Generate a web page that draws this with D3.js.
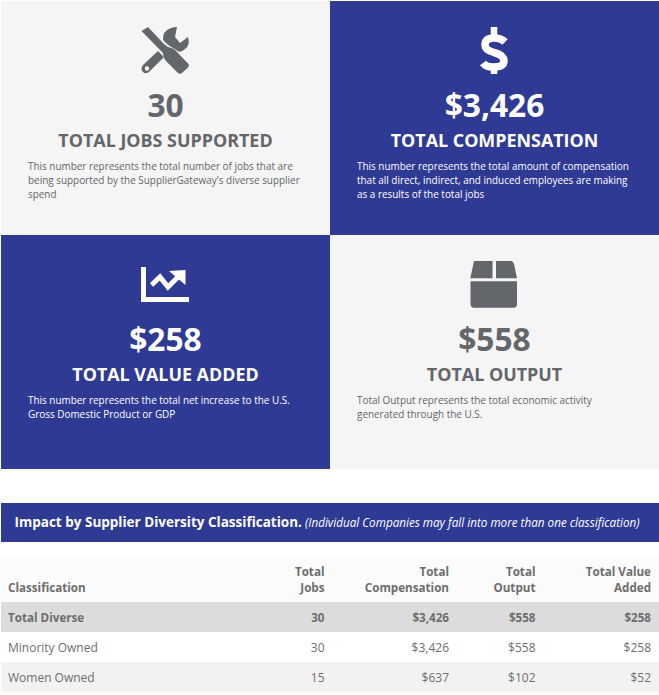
<!DOCTYPE html>
<html><head><meta charset="utf-8">
<script src="https://cdn.jsdelivr.net/npm/d3@7"></script>
<style>html,body{margin:0;padding:0;background:#fff}svg{display:block}text{font-family:"Open Sans",sans-serif}</style>
</head><body><div id="c"></div>
<script>
const cardKeys=["jobs","comp","value","output"];
const cardValues=["30","$3,426","$258","$558"];
const cardTitles=["TOTAL JOBS SUPPORTED","TOTAL COMPENSATION","TOTAL VALUE ADDED","TOTAL OUTPUT"];
const cardNotes=[
 ["This number represents the total number of jobs that are","being supported by the SupplierGateway's diverse supplier","spend"],
 ["This number represents the total amount of compensation","that all direct, indirect, and induced employees are making","as a results of the total jobs"],
 ["This number represents the total net increase to the U.S.","Gross Domestic Product or GDP"],
 ["Total Output represents the total economic activity","generated through the U.S."]];
const bannerTitle="Impact by Supplier Diversity Classification.";
const bannerNote="(Individual Companies may fall into more than one classification)";
const columns=["Classification","Jobs","Compensation","Output","ValueAdded"];
const columnHeads=[["Classification"],["Total","Jobs"],["Total","Compensation"],["Total","Output"],["Total Value","Added"]];
const rowNames=["Total Diverse","Minority Owned","Women Owned"];
const jobs=["30","30","15"];
const compensation=["$3,426","$3,426","$637"];
const output=["$558","$558","$102"];
const valueAdded=["$258","$258","$52"];

const GREY="#63666a",BLUE="#2e3a94",LIGHT="#f5f5f5";
const svg=d3.select("#c").append("svg").attr("width",659).attr("height",695);
const px=d3.scaleBand().domain([0,1]).range([1,659]);
const py=d3.scaleBand().domain([0,1]).range([1,469]);

const icons={
 jobs(g,fg,bg){
  g.append("path").attr("fill",fg).attr("d","M22,14 Q21,4 30,1 Q33,0 36,0 L34,10 L39,16 L47,10 Q49.5,18 44,22 Q40,26 35,25 L28,22 Z");
  g.append("path").attr("fill",fg).attr("d","M17,24 L23,30 L9,44 Q5,48 2,45 Q-1,42 2,38 Z");
  g.append("circle").attr("fill",bg).attr("cx",6).attr("cy",41.5).attr("r",2.2);
  g.append("path").attr("fill",bg).attr("stroke",bg).attr("stroke-width",3).attr("d","M1,4 L7,0 L26,19 L37,26 L48,38 L40,47 L28,35 L21,25 Z");
  g.append("path").attr("fill",fg).attr("d","M0.5,4 L7,0 L23,17 L27,20 Q33,21 36,25 L47.5,37 Q48.5,39 47,40.5 L41,46 Q39,47.5 37,46 L26,35 Q22,31 22,26 L19,23 Z");
 },
 comp(g,fg){
  g.append("path").attr("fill","none").attr("stroke",fg).attr("stroke-width",7.5).attr("d","M25,15 Q21,11 14,11 Q5,11 5,18 Q5,23 14,25.5 Q24,28 24,34 Q24,40 13,40 Q6,40 3,36");
  g.append("path").attr("fill","none").attr("stroke",fg).attr("stroke-width",6.5).attr("d","M14,0 V9 M14,38 V47");
 },
 value(g,fg){
  g.append("path").attr("fill","none").attr("stroke",fg).attr("stroke-width",5).attr("d","M2.5,0 V32.5 H48");
  g.append("path").attr("fill","none").attr("stroke",fg).attr("stroke-width",5).attr("d","M10.5,18 L19,10 L27,20 L38,9");
  g.append("path").attr("fill",fg).attr("d","M28,4 L44.5,3 L44.5,18 Z");
 },
 output(g,fg){
  g.append("path").attr("fill",fg).attr("d","M4,0 Q4.3,0 5,0 H22.5 V17.3 H0.3 Z M26,0 H41 Q43,0 44,3 L47,17.3 H26 Z");
  g.append("path").attr("fill",fg).attr("d","M0.5,20.3 H47 V43 Q47,46.7 43.5,46.7 H4 Q0.5,46.7 0.5,43 Z");
 }
};
const iconOrigin={jobs:[141,27],comp:[480,27],value:[141,267],output:[470,261]};

const card=svg.selectAll("g.card").data(cardKeys).join("g").attr("class","card");
card.each(function(k,i){
 const col=i%2,row=i>>1,dark=(col+row)%2===1;
 const fg=dark?"#fff":GREY,bg=dark?BLUE:LIGHT;
 const g=d3.select(this),x0=px(col),y0=py(row),w=px.bandwidth();
 g.append("rect").attr("x",x0).attr("y",y0).attr("width",w).attr("height",py.bandwidth()).attr("fill",bg);
 const ig=g.append("g").attr("transform",`translate(${iconOrigin[k]})`);
 icons[k](ig,fg,bg);
 const cx=x0+w/2;
 g.append("text").attr("x",cx).attr("y",y0+116).attr("text-anchor","middle").attr("font-size",31.7).attr("font-weight",700).attr("fill",fg).text(cardValues[i]);
 g.append("text").attr("x",cx).attr("y",y0+146).attr("text-anchor","middle").attr("font-size",17.9).attr("font-weight",700).attr("fill",fg).text(cardTitles[i]);
 g.selectAll("text.note").data(cardNotes[i]).join("text").attr("class","note")
  .attr("x",x0+27).attr("y",(d,j)=>y0+168.7+j*14).attr("font-size",9.93).attr("fill",fg).text(d=>d);
});

svg.append("rect").attr("x",1).attr("y",503).attr("width",658).attr("height",39).attr("fill",BLUE);
const bt=svg.append("text").attr("x",14.5).attr("y",527).attr("fill","#fff");
bt.append("tspan").attr("font-size",13.5).attr("font-weight",700).text(bannerTitle);
bt.append("tspan").attr("font-size",11.7).attr("font-style","italic").attr("dx",3).text(bannerNote);

const colX=d3.scaleOrdinal().domain(columns).range([8,324.5,449,535.5,651]);
const rowY=d3.scaleBand().domain(rowNames).range([602,692]);
const TXT="#6e6e6e";
svg.append("rect").attr("x",1).attr("y",556).attr("width",658).attr("height",46).attr("fill","#fbfbfb");
columns.forEach((c,i)=>{
 const lines=columnHeads[i],anchor=i?"end":"start";
 lines.forEach((t,j)=>svg.append("text").attr("x",colX(c)).attr("y",592-(lines.length-1-j)*16)
  .attr("text-anchor",anchor).attr("font-size",11.65).attr("font-weight",700).attr("fill",TXT).text(t));
});
const rowFill=["#dcdcdc","#ffffff","#f2f2f2"];
const rowData=[rowNames,jobs,compensation,output,valueAdded];
rowNames.forEach((r,i)=>{
 svg.append("rect").attr("x",1).attr("y",rowY(r)).attr("width",658).attr("height",rowY.bandwidth()).attr("fill",rowFill[i]);
 columns.forEach((c,j)=>svg.append("text").attr("x",colX(c)).attr("y",rowY(r)+20)
  .attr("text-anchor",j?"end":"start").attr("font-size",i===0?11.65:12).attr("font-weight",i===0?700:400).attr("fill",TXT).text(rowData[j][i]));
});
</script></body></html>
